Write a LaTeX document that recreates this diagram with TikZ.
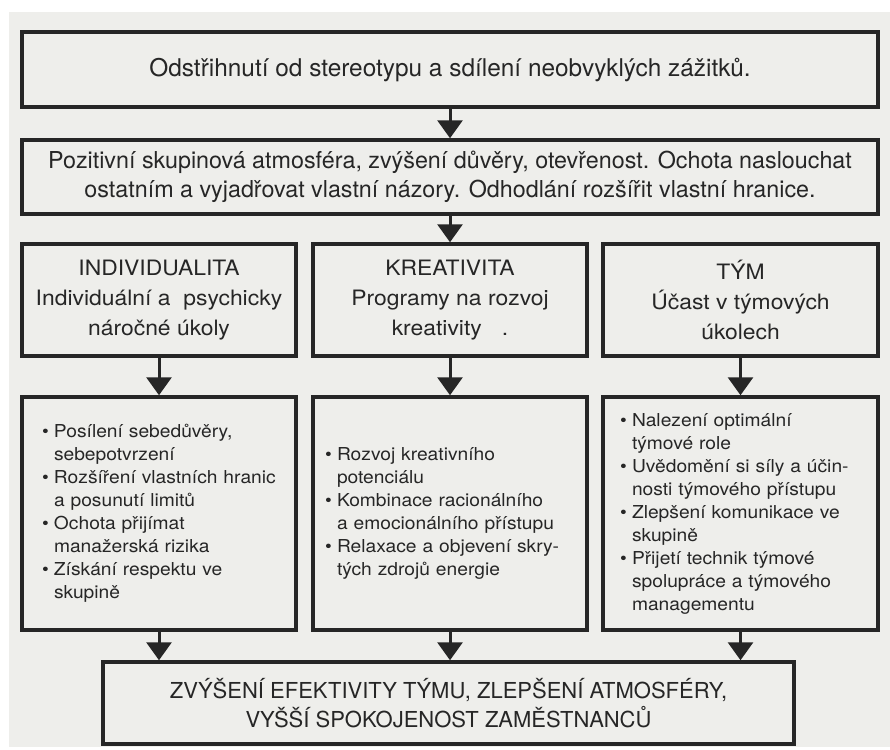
\documentclass[tikz,border=0pt]{standalone}
\usepackage{fontspec}
\setmainfont{TeX Gyre Heros}
\newfontfamily\widefont[FakeStretch=1.08]{TeX Gyre Heros}
\usetikzlibrary{positioning,arrows.meta}

\definecolor{ink}{HTML}{262626}
\definecolor{paper}{HTML}{EEEEEB}
\newcommand{\bul}{\makebox[12pt][l]{\textbullet}}
\newcommand{\ind}{\hspace*{12pt}}

\begin{document}
\begin{tikzpicture}[x=1pt,y=-1pt]
        \tikzstyle{box}=[draw=ink, line width=3.5pt, inner sep=0pt, text=ink]
        \tikzstyle{head}=[font=\fontsize{24.4}{29}\selectfont, align=center]
        \tikzstyle{pillar}=[minimum width=274pt, minimum height=112pt, align=center, font=\widefont\fontsize{21.2}{30}\selectfont]
        \tikzstyle{list}=[minimum width=274pt, minimum height=233pt, align=left, font=\widefont\fontsize{17.8}{23}\selectfont]
        \tikzstyle{arr}=[draw=ink, line width=3pt, -{Triangle[width=25pt,length=18pt]}]

        \fill[white] (0,0) rectangle (890,749);
        \fill[paper] (9,12) rectangle (890,747);
        \useasboundingbox (0,0) rectangle (890,749);

        \node[box, head, minimum width=856pt, minimum height=75pt] (odstrih) at (450,69.5)
            {Odstřihnutí od stereotypu a sdílení neobvyklých zážitků.};
        \node[box, head, font=\fontsize{23.3}{29}\selectfont, minimum width=856pt, minimum height=74pt] (atmosfera) at (450,177)
            {Pozitivní skupinová atmosféra, zvýšení důvěry, otevřenost. Ochota naslouchat\\
             ostatním a vyjadřovat vlastní názory. Odhodlání rozšířit vlastní hranice.};

        \node[box, pillar] (indiv) at (159,300) {INDIVIDUALITA\\ Individuální a\ \ psychicky\\ náročné úkoly};
        \node[box, pillar] (kreat) at (450,300) {KREATIVITA\\ Programy na rozvoj\\ kreativity\hspace{20pt}.};
        \node[box, pillar, minimum width=275pt] (tym) at (740.5,300) {TÝM\\ Účast v týmových\\ úkolech};

        \node[box, list, text width=234pt] (indivList) at (159,513.5)
            {\bul Posílení sebedůvěry,\\ \ind sebepotvrzení\\
             \bul Rozšíření vlastních hranic\\ \ind a posunutí limitů\\
             \bul Ochota přijímat\\ \ind manažerská rizika\\
             \bul Získání respektu ve\\ \ind skupině};
        \node[box, list, text width=250pt] (kreatList) at (450,513.5)
            {\bul Rozvoj kreativního\\ \ind potenciálu\\
             \bul Kombinace racionálního\\ \ind a emocionálního přístupu\\
             \bul Relaxace a objevení skry-\\ \ind tých zdrojů energie};
        \node[box, list, minimum width=275pt, text width=241pt] (tymList) at (740.5,513.5)
            {\bul Nalezení optimální\\ \ind týmové role\\
             \bul Uvědomění si síly a účin-\\ \ind nosti týmového přístupu\\
             \bul Zlepšení komunikace ve\\ \ind skupině\\
             \bul Přijetí technik týmové\\ \ind spolupráce a týmového\\ \ind managementu};

        \node[box, head, font=\fontsize{22}{29}\selectfont, minimum width=691pt, minimum height=82pt] (efekt) at (448.5,703)
            {ZVÝŠENÍ EFEKTIVITY TÝMU, ZLEPŠENÍ ATMOSFÉRY,\\ VYŠŠÍ SPOKOJENOST ZAMĚSTNANCŮ};

        \draw[arr] (odstrih.south) -- (atmosfera.north);
        \draw[arr] (atmosfera.south) -- (kreat.north);
        \draw[arr] (indiv.south) -- (indivList.north);
        \draw[arr] (kreat.south) -- (kreatList.north);
        \draw[arr] (tym.south) -- (tymList.north);
        \draw[arr] (indivList.south) -- (indivList.south |- efekt.north);
        \draw[arr] (kreatList.south) -- (kreatList.south |- efekt.north);
        \draw[arr] (tymList.south) -- (tymList.south |- efekt.north);
\end{tikzpicture}
\end{document}
